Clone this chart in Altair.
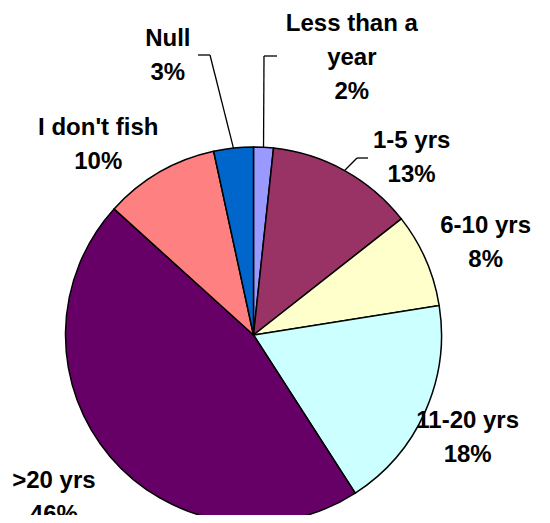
import altair as alt
import pandas as pd

# ---- data ----
categories = ["Less than a year", "1-5 yrs", "6-10 yrs", "11-20 yrs", ">20 yrs", "I don't fish", "Null"]
label_names = ["Less than a\nyear", "1-5 yrs", "6-10 yrs", "11-20 yrs", ">20 yrs", "I don't fish", "Null"]
values = [1.7, 12.7, 8.1, 18.4, 45.8, 9.9, 3.4]
colors = ["#9999FF", "#993366", "#FFFFCC", "#CCFFFF", "#660066", "#FF8080", "#0066CC"]

df = pd.DataFrame({
    "category": categories,
    "name": label_names,
    "value": values,
    "idx": list(range(len(categories))),
})

# ---- layout (pixels) ----
CX, CY, R = 245.5, 327, 188
LABEL_R = 250
FONT = "Liberation Sans"

base = (
    alt.Chart(df)
    .transform_joinaggregate(total="sum(value)")
    .transform_window(cum="sum(value)", sort=[alt.SortField("idx")], frame=[None, 0])
    .transform_calculate(mid="2*PI*(datum.cum - datum.value/2)/datum.total")
    .transform_calculate(label="datum.name + '\\n' + format(datum.value/datum.total, '.0%')")
    .transform_calculate(ex=f"{CX} + {R}*sin(datum.mid)")
    .transform_calculate(ey=f"{CY} - {R}*cos(datum.mid)")
    .transform_calculate(lx=f"{CX} + {LABEL_R}*sin(datum.mid)")
    .transform_calculate(ly=f"{CY} - {LABEL_R}*cos(datum.mid)")
)

arc = alt.Chart(df).mark_arc(outerRadius=R, stroke="black", strokeWidth=1.5).encode(
    theta=alt.Theta("value:Q", stack=True),
    color=alt.Color("category:N", scale=alt.Scale(domain=categories, range=colors), legend=None),
    order=alt.Order("idx:Q"),
    x=alt.value(CX),
    y=alt.value(CY),
)

# label nudges (first line position relative to the polar anchor)
nudges = {
    "Less than a year": (85, -61),
    "1-5 yrs": (37, 25),
    "6-10 yrs": (3, -9),
    "11-20 yrs": (-14, -16),
    ">20 yrs": (-9, -16),
    "I don't fish": (-30, 9),
    "Null": (-59, -47),
}

layers = [arc]

leaders = {
    "Less than a year": ((256, 48), (269, 48)),
    "1-5 yrs": ((349, 150), (360, 150)),
    "Null": ((202, 47), (190, 47)),
}
for c, (elbow, end) in leaders.items():
    sub = base.transform_filter(alt.datum.category == c)
    layers.append(
        sub.mark_rule(color="black", strokeWidth=1.3).encode(
            x=alt.X("ex:Q", scale=None),
            y=alt.Y("ey:Q", scale=None),
            x2=alt.value(elbow[0]),
            y2=alt.value(elbow[1]),
        )
    )
    layers.append(
        sub.mark_rule(color="black", strokeWidth=1.3).encode(
            x=alt.value(elbow[0]),
            x2=alt.value(end[0]),
            y=alt.value(elbow[1]),
        )
    )

for c, (dx, dy) in nudges.items():
    layers.append(
        base.transform_filter(alt.datum.category == c)
        .mark_text(
            font=FONT, fontSize=24, fontWeight="bold", lineBreak="\n", lineHeight=34,
            align="center", baseline="middle", dx=dx, dy=dy, color="black",
        )
        .encode(
            x=alt.X("lx:Q", scale=None),
            y=alt.Y("ly:Q", scale=None),
            text="label:N",
        )
    )

chart = (
    alt.layer(*layers)
    .properties(width=534, height=507, padding=0, autosize=alt.AutoSizeParams(type="none"),
                background="white")
    .configure_view(stroke=None)
)

chart.save("out.html", embed_options={"renderer": "svg", "actions": False})
